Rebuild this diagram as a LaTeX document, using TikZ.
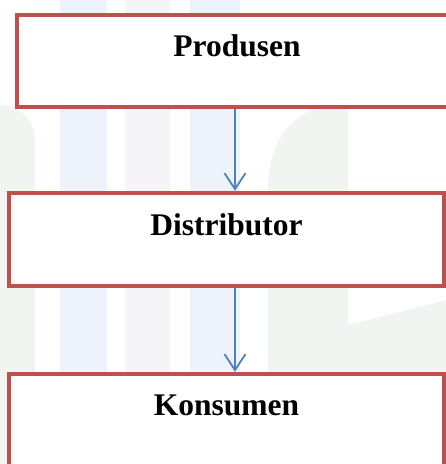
\documentclass[tikz,border=0pt]{standalone}
\usepackage{fontspec}
\setmainfont{Liberation Serif}
\usetikzlibrary{arrows.meta}
\definecolor{boxred}{RGB}{192,80,77}
\definecolor{arrblue}{RGB}{79,129,189}
\definecolor{wmblue}{RGB}{236,243,250}
\definecolor{wmlav}{RGB}{244,244,249}
\definecolor{wmgreen}{RGB}{240,245,241}
\tikzset{
  box/.style={draw=boxred, line width=4.5pt, fill=white, rectangle,
    font=\fontsize{31.5}{36}\selectfont\bfseries, text height=22pt, inner sep=0pt},
  flow/.style={draw=arrblue, line width=1.8pt,
    -{Straight Barb[length=16pt,width=21pt,line width=1.8pt]}}
}
\begin{document}
\begin{tikzpicture}[x=1pt,y=-1pt]
\useasboundingbox (0,0) rectangle (446,464);
% faint watermark
\fill[wmblue] (60,0) rectangle (107,464);
\fill[wmlav] (125,0) rectangle (170,464);
\fill[wmblue] (190,0) rectangle (240,464);
\fill[wmgreen] (268,464) -- (268,190) .. controls (268,140) and (290,108) .. (348,100) -- (348,464) -- cycle;
\fill[wmgreen] (0,464) -- (0,105) arc[start angle=270,end angle=360,radius=35] -- (35,464) -- cycle;
\fill[wmgreen] (270,464) -- (270,345) -- (446,300) -- (446,464) -- cycle;
% boxes
\node[box, minimum width=440pt, minimum height=92pt, text depth=32pt] (prod) at (237,61) {Produsen};
\node[box, minimum width=435pt, minimum height=93pt, text depth=31pt] (dist) at (226.5,239.5) {Distributor};
\node[box, minimum width=435pt, minimum height=93pt, text depth=32pt] (kons) at (226.5,420.5) {Konsumen};
% connectors
\coordinate (ax) at (235,0);
\draw[flow] (prod.south -| ax) -- (dist.north -| ax);
\draw[flow] (dist.south -| ax) -- (kons.north -| ax);
\end{tikzpicture}
\end{document}
